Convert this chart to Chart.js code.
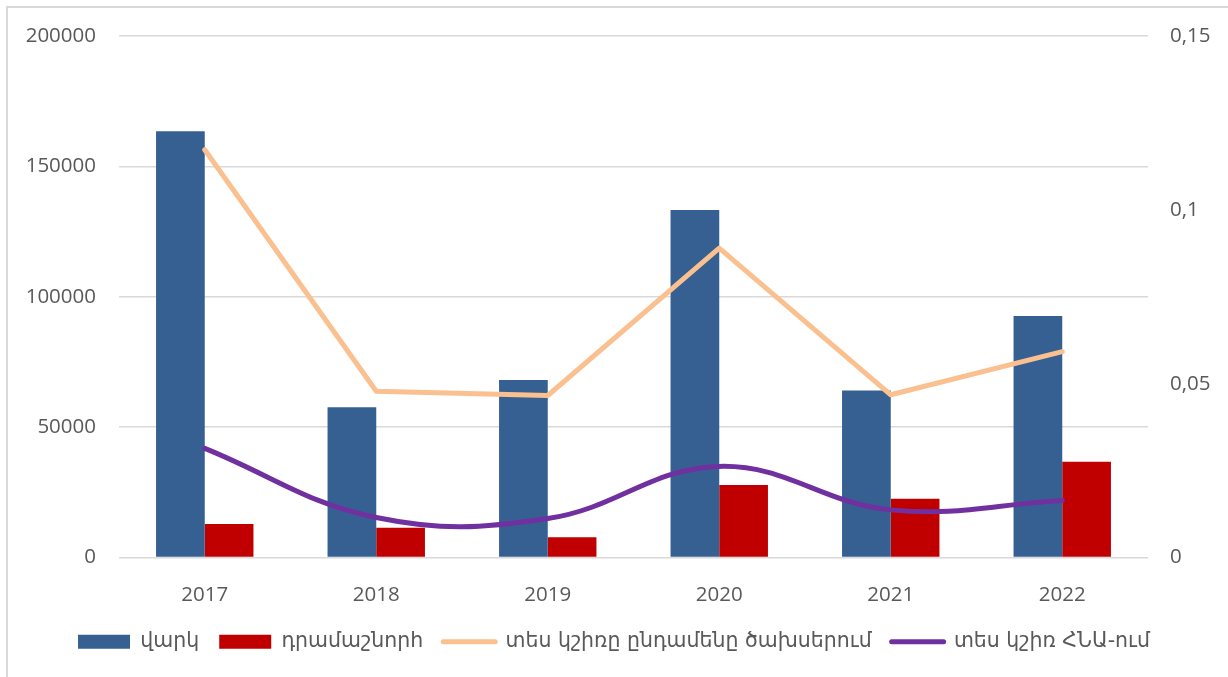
<!DOCTYPE html>
<html lang="hy">
<head>
  <meta charset="UTF-8" />
  <title>վարկ, դրամաշնորհ</title>
  <script src="https://cdn.jsdelivr.net/npm/chart.js"></script>
  <style>
    body { margin: 0; background: #fff; }
    .frame {
      position: absolute;
      left: 6px; top: 6px;
      width: 1240px; height: 700px;
      border: 2px solid #d9d9d9;
    }
    .wrap {
      position: absolute;
      left: 0; top: 0;
      width: 1228px; height: 677px;
    }
  </style>
</head>
<body>
  <div class="frame"></div>
  <div class="wrap"><canvas id="chart"></canvas></div>

  <script>
    // data
    const years = ['2017', '2018', '2019', '2020', '2021', '2022'];
    const loans = [163500, 57600, 68100, 133300, 64000, 92600];          // վարկ
    const grants = [12800, 11400, 7800, 27800, 22500, 36700];            // դրամաշնորհ
    const shareOfSpending = [0.1173, 0.0478, 0.0466, 0.0890, 0.0468, 0.0592];
    const shareOfGdp = [0.0314, 0.0115, 0.0112, 0.0262, 0.0137, 0.0164];

    const tickFont = { family: "'Open Sans', 'Noto Sans', sans-serif", size: 20.5 };
    const legendFont = { family: "'DejaVu Sans', sans-serif", size: 20.5 };
    const grey = '#595959';

    new Chart(document.getElementById('chart'), {
      data: {
        labels: years,
        datasets: [
          {
            type: 'bar', label: 'վարկ', data: loans,
            backgroundColor: '#376092', yAxisID: 'y', order: 2,
            categoryPercentage: 0.568, barPercentage: 1.0
          },
          {
            type: 'bar', label: 'դրամաշնորհ', data: grants,
            backgroundColor: '#c00000', yAxisID: 'y', order: 2,
            categoryPercentage: 0.568, barPercentage: 1.0
          },
          {
            type: 'line', label: 'տես կշիռը ընդամենը ծախսերում', data: shareOfSpending,
            borderColor: '#fac090', backgroundColor: '#fac090', borderWidth: 5,
            pointRadius: 0, tension: 0, yAxisID: 'y1', order: 1,
            borderCapStyle: 'round', borderJoinStyle: 'round'
          },
          {
            type: 'line', label: 'տես կշիռ ՀՆԱ-ում', data: shareOfGdp,
            borderColor: '#7030a0', backgroundColor: '#7030a0', borderWidth: 5,
            pointRadius: 0, tension: 0.4, yAxisID: 'y1', order: 1,
            borderCapStyle: 'round'
          }
        ]
      },
      options: {
        responsive: true,
        maintainAspectRatio: false,
        animation: false,
        layout: { padding: { top: 36, bottom: 15, left: 0, right: 0 } },
        plugins: {
          tooltip: { enabled: false },
          legend: {
            position: 'bottom',
            labels: {
              usePointStyle: true,
              pointStyleWidth: 52,
              boxHeight: 14,
              padding: 20,
              color: grey,
              font: legendFont,
              sort: (a, b) => a.datasetIndex - b.datasetIndex,
              generateLabels(chart) {
                const items = Chart.defaults.plugins.legend.labels.generateLabels(chart);
                items.forEach(it => {
                  const ds = chart.data.datasets[it.datasetIndex];
                  it.pointStyle = ds.type === 'line' ? 'line' : 'rect';
                  it.lineWidth = ds.type === 'line' ? 5 : 0;
                  it.strokeStyle = ds.type === 'line' ? ds.borderColor : ds.backgroundColor;
                  it.lineCap = 'round';
                });
                return items;
              }
            }
          }
        },
        scales: {
          x: {
            grid: { display: false },
            border: { display: false },
            ticks: { color: grey, font: tickFont, padding: 17 },
            afterFit(scale) { scale.height = 54; }
          },
          y: {
            position: 'left',
            min: 0, max: 200000,
            ticks: {
              stepSize: 50000, color: grey, font: tickFont, padding: 23,
              callback: v => String(v)
            },
            grid: { color: '#d9d9d9', lineWidth: 1.5, drawTicks: false },
            border: { display: false },
            afterFit(scale) { scale.width = 119; }
          },
          y1: {
            position: 'right',
            min: 0, max: 0.15,
            ticks: {
              stepSize: 0.05, color: grey, font: tickFont, padding: 22,
              callback: v => String(Math.round(v * 100) / 100).replace('.', ',')
            },
            grid: { display: false, drawTicks: false },
            border: { display: false },
            afterFit(scale) { scale.width = 80; }
          }
        }
      }
    });
  </script>
</body>
</html>
